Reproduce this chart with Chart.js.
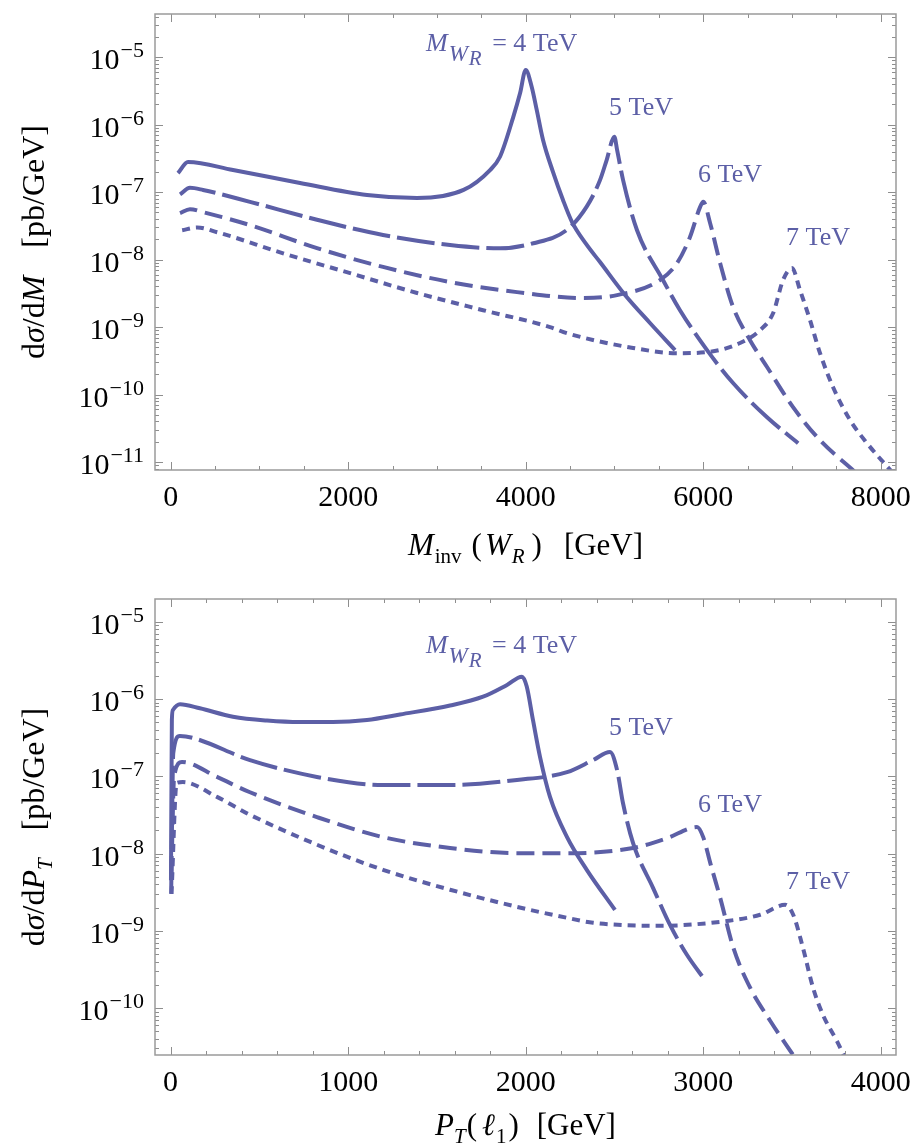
<!DOCTYPE html>
<html>
<head>
<meta charset="utf-8">
<script src="https://cdn.jsdelivr.net/npm/chart.js@4.4.0/dist/chart.umd.min.js"></script>
<style>
  html, body { margin: 0; padding: 0; background: #fff; }
  canvas { display: block; }
</style>
</head>
<body>
<canvas id="invChart" width="919" height="570"></canvas>
<canvas id="ptChart" width="919" height="578"></canvas>
<script>
// data
const massLabels = ["4 TeV", "5 TeV", "6 TeV", "7 TeV"];

// top panel: dsigma/dM vs M_inv(W_R)
const mInv4 = [82, 195, 702, 1457, 2212, 2775, 3300, 3598, 3710, 3861, 3936, 4000, 4067, 4124, 4195, 4307, 4420, 4522, 4680, 4837, 5119, 5400, 5682];
const dsdm4 = [1.92e-7, 2.8e-7, 2.13e-7, 1.37e-7, 9.1e-8, 8.2e-8, 1.08e-7, 2.13e-7, 3.35e-7, 1.32e-6, 2.92e-6, 6.5e-6, 3.66e-6, 1.66e-6, 5.94e-7, 2.0e-7, 7.66e-8, 3.61e-8, 1.71e-8, 9.2e-9, 2.99e-9, 1.15e-9, 4.57e-10];
const mInv5 = [105, 217, 364, 893, 1648, 2392, 3147, 3711, 4086, 4462, 4687, 4837, 4912, 4998, 5030, 5097, 5254, 5547, 5738, 6043, 6336, 6719, 7069];
const dsdm5 = [9.3e-8, 1.16e-7, 1.08e-7, 7.2e-8, 3.9e-8, 2.32e-8, 1.65e-8, 1.47e-8, 1.75e-8, 2.75e-8, 6.1e-8, 1.51e-7, 3.0e-7, 6.65e-7, 4.2e-7, 1.51e-7, 2.73e-8, 4.97e-9, 1.78e-9, 4.55e-10, 1.48e-10, 4.6e-11, 1.9e-11];
const mInv6 = [105, 217, 364, 893, 1648, 2392, 3147, 3902, 4646, 5029, 5513, 5705, 5851, 5964, 6000, 6077, 6190, 6336, 6527, 6719, 7012, 7316, 7710];
const dsdm6 = [4.9e-8, 5.6e-8, 5.06e-8, 3.25e-8, 1.48e-8, 7.8e-9, 4.65e-9, 3.3e-9, 2.7e-9, 2.98e-9, 4.98e-9, 8.9e-9, 2.16e-8, 6.0e-8, 7.2e-8, 3.5e-8, 8.9e-9, 1.99e-9, 6.4e-10, 2.56e-10, 6.5e-11, 2.1e-11, 7.1e-12];
const mInv7 = [129, 298, 523, 1267, 2021, 2776, 3519, 4274, 4466, 5210, 5705, 6043, 6415, 6640, 6787, 6900, 7000, 7090, 7203, 7316, 7462, 7654, 7845, 8127];
const dsdm7 = [2.73e-8, 3.0e-8, 2.55e-8, 1.24e-8, 6.3e-9, 3.2e-9, 1.78e-9, 1.0e-9, 8.1e-10, 4.9e-10, 4.1e-10, 4.25e-10, 5.8e-10, 9.0e-10, 1.6e-9, 5.0e-9, 7.5e-9, 3.55e-9, 1.27e-9, 4.1e-10, 1.29e-10, 4.2e-11, 1.9e-11, 7.1e-12];

// bottom panel: dsigma/dPT vs PT(l1)
const pt4 = [2, 7, 13, 53, 165, 351, 543, 729, 914, 1106, 1292, 1574, 1760, 1895, 1979, 2006, 2041, 2081, 2137, 2233, 2345, 2503];
const dsdpt4 = [4.5e-9, 5.35e-7, 7.2e-7, 8.53e-7, 7.57e-7, 5.89e-7, 5.26e-7, 5.03e-7, 5.03e-7, 5.35e-7, 6.3e-7, 8.22e-7, 1.07e-6, 1.52e-6, 1.94e-6, 1.45e-6, 5.35e-7, 1.77e-7, 5.4e-8, 1.63e-8, 6.1e-9, 1.86e-9];
const pt5 = [3, 15, 52, 126, 447, 824, 1196, 1574, 1951, 2233, 2380, 2475, 2515, 2548, 2605, 2718, 2813, 2909, 3010];
const dsdpt5 = [3.0e-9, 2.0e-7, 3.32e-7, 3.13e-7, 1.62e-7, 9.8e-8, 7.7e-8, 7.7e-8, 8.95e-8, 1.13e-7, 1.62e-7, 2.06e-7, 1.2e-7, 4.5e-8, 1.36e-8, 3.57e-9, 1.19e-9, 4.85e-10, 2.3e-10];
const pt6 = [4, 20, 64, 261, 447, 824, 1196, 1574, 1951, 2250, 2605, 2797, 2965, 3000, 3040, 3096, 3170, 3265, 3378, 3518];
const dsdpt6 = [5.0e-9, 1.0e-7, 1.53e-7, 9.8e-8, 6.2e-8, 2.96e-8, 1.63e-8, 1.18e-8, 1.01e-8, 1.01e-8, 1.18e-8, 1.58e-8, 2.2e-8, 1.63e-8, 7.5e-9, 2.65e-9, 6.0e-10, 1.82e-10, 6.8e-11, 2.25e-11];
const pt7 = [5, 34, 69, 261, 447, 824, 1196, 1574, 1951, 2233, 2380, 2757, 3135, 3321, 3462, 3507, 3562, 3619, 3675, 3754, 3800];
const dsdpt7 = [3.0e-9, 8.2e-8, 8.4e-8, 5.4e-8, 3.17e-8, 1.3e-8, 6.15e-9, 3.4e-9, 2.04e-9, 1.47e-9, 1.27e-9, 1.16e-9, 1.34e-9, 1.61e-9, 2.17e-9, 1.61e-9, 6.0e-10, 1.82e-10, 8.1e-11, 3.7e-11, 2.25e-11];

// tick labels
const invXTicks = [0, 2000, 4000, 6000, 8000];
const ptXTicks = [0, 1000, 2000, 3000, 4000];
const invYExps = [-5, -6, -7, -8, -9, -10, -11];
const ptYExps = [-5, -6, -7, -8, -9, -10];

const lineColor = "rgb(92, 95, 166)";
const dashes = [[], [38, 7], [18, 8], [8, 6]];
const serif = '"Liberation Serif", "Times New Roman", serif';

function buildDatasets(xs, ys) {
  return xs.map((xArr, i) => ({
    label: massLabels[i],
    data: xArr.map((x, j) => ({ x: x, y: ys[i][j] })),
    borderColor: lineColor,
    borderWidth: 4,
    borderDash: dashes[i],
    pointRadius: 0,
    fill: false,
    clip: 0,
    cubicInterpolationMode: "monotone",
  }));
}

function runFont(r, base) {
  return (r.it ? "italic " : "") + (r.size || base) + "px " + serif;
}

// draws a row of text pieces (for sub/superscripts)
function drawRuns(ctx, runs, x, y, base, align) {
  let total = 0;
  runs.forEach((r) => {
    ctx.font = runFont(r, base);
    r.w = (r.gap || 0) + (r.t ? ctx.measureText(r.t).width : 0);
    total += r.w;
  });
  let cx = align === "center" ? x - total / 2 : x;
  ctx.textAlign = "left";
  ctx.textBaseline = "alphabetic";
  runs.forEach((r) => {
    ctx.font = runFont(r, base);
    if (r.t) ctx.fillText(r.t, cx + (r.gap || 0), y + (r.dy || 0));
    cx += r.w;
  });
}

function framePlugin(spec) {
  return {
    id: "frameDecor",
    afterDraw(chart) {
      const ctx = chart.ctx;
      const a = chart.chartArea;
      const xs = chart.scales.x;
      const ys = chart.scales.y;
      ctx.save();

      // inward ticks on all four sides
      ctx.strokeStyle = "#8e8e8e";
      ctx.lineWidth = 1;
      ctx.beginPath();
      for (let v = 0; v <= xs.max; v += spec.xMinor) {
        const px = Math.round(xs.getPixelForValue(v)) + 0.5;
        const len = v % spec.xMajor === 0 ? 8 : 4;
        ctx.moveTo(px, a.bottom);
        ctx.lineTo(px, a.bottom - len);
        ctx.moveTo(px, a.top);
        ctx.lineTo(px, a.top + len);
      }
      for (let d = -12; d <= -4; d++) {
        for (let k = 1; k <= 9; k++) {
          const v = k * Math.pow(10, d);
          if (v < ys.min || v > ys.max) continue;
          const py = Math.round(ys.getPixelForValue(v)) + 0.5;
          const len = k === 1 ? 8 : 4;
          ctx.moveTo(a.left, py);
          ctx.lineTo(a.left + len, py);
          ctx.moveTo(a.right, py);
          ctx.lineTo(a.right - len, py);
        }
      }
      ctx.stroke();

      ctx.strokeStyle = "#9a9a9a";
      ctx.lineWidth = 1.5;
      ctx.strokeRect(a.left, a.top, a.right - a.left, a.bottom - a.top);

      // tick labels
      ctx.fillStyle = "#000";
      ctx.font = "30px " + serif;
      ctx.textAlign = "center";
      ctx.textBaseline = "alphabetic";
      spec.xTicks.forEach((v) => {
        ctx.fillText(String(v), xs.getPixelForValue(v), a.bottom + 36);
      });
      spec.yExps.forEach((e) => {
        const py = ys.getPixelForValue(Math.pow(10, e));
        const sup = "\u2212" + Math.abs(e);
        ctx.font = "22px " + serif;
        const sw = ctx.measureText(sup).width;
        ctx.font = "30px " + serif;
        const bw = ctx.measureText("10").width;
        const right = a.left - 11;
        ctx.textAlign = "left";
        ctx.fillText("10", right - sw - bw - 1, py + 12);
        ctx.font = "22px " + serif;
        ctx.fillText(sup, right - sw, py);
      });

      // axis titles
      drawRuns(ctx, spec.xTitle, (a.left + a.right) / 2, a.bottom + spec.xTitleDy, 31, "center");
      ctx.save();
      ctx.translate(44, (a.top + a.bottom) / 2);
      ctx.rotate(-Math.PI / 2);
      drawRuns(ctx, spec.yTitle, 0, 0, 32, "center");
      ctx.restore();

      // curve labels
      ctx.fillStyle = lineColor;
      spec.notes.forEach((n) => {
        drawRuns(ctx, n.runs, xs.getPixelForValue(n.x), ys.getPixelForValue(n.y), 26, "left");
      });
      ctx.restore();
    },
  };
}

function mwrRuns() {
  return [
    { t: "M", it: 1 },
    { t: "W", it: 1, size: 23, dy: 10, gap: 1 },
    { t: "R", it: 1, size: 21, dy: 14, gap: 1 },
    { t: " = 4 TeV", gap: 4 },
  ];
}

function makeChart(id, datasets, axes, pad, xHeight, spec) {
  return new Chart(document.getElementById(id), {
    type: "line",
    data: { datasets: datasets },
    options: {
      responsive: false,
      animation: false,
      devicePixelRatio: 1,
      layout: { padding: pad },
      plugins: { legend: { display: false }, tooltip: { enabled: false } },
      scales: {
        x: {
          type: "linear",
          min: axes.xMin,
          max: axes.xMax,
          grid: { display: false },
          border: { display: false },
          ticks: { display: false },
          afterFit: (s) => { s.height = xHeight; },
        },
        y: {
          type: "logarithmic",
          min: axes.yMin,
          max: axes.yMax,
          grid: { display: false },
          border: { display: false },
          ticks: { display: false },
          afterFit: (s) => { s.width = 155; },
        },
      },
    },
    plugins: [framePlugin(spec)],
  });
}

makeChart(
  "invChart",
  buildDatasets([mInv4, mInv5, mInv6, mInv7], [dsdm4, dsdm5, dsdm6, dsdm7]),
  { xMin: -177, xMax: 8172, yMin: Math.pow(10, -11.119), yMax: Math.pow(10, -4.358) },
  { top: 14, right: 23, bottom: 0, left: 0 },
  100,
  {
    xMinor: 500,
    xMajor: 2000,
    xTicks: invXTicks,
    yExps: invYExps,
    xTitleDy: 85,
    xTitle: [
      { t: "M", it: 1 },
      { t: "inv", size: 21, dy: 8, gap: 1 },
      { t: "(", gap: 10 },
      { t: "W", it: 1, gap: 3 },
      { t: "R", it: 1, size: 21, dy: 8, gap: 1 },
      { t: ")", gap: 7 },
      { t: "[GeV]", gap: 22 },
    ],
    yTitle: [
      { t: "d" }, { t: "\u03c3", it: 1 }, { t: "/d" }, { t: "M", it: 1 },
      { t: "[pb/GeV]", gap: 28 },
    ],
    notes: [
      { x: 2877, y: 1.239e-5, runs: mwrRuns() },
      { x: 4939, y: 1.4e-6, runs: [{ t: "5 TeV" }] },
      { x: 5942, y: 1.42e-7, runs: [{ t: "6 TeV" }] },
      { x: 6934, y: 1.65e-8, runs: [{ t: "7 TeV" }] },
    ],
  }
);

makeChart(
  "ptChart",
  buildDatasets([pt4, pt5, pt6, pt7], [dsdpt4, dsdpt5, dsdpt6, dsdpt7]),
  { xMin: -88, xMax: 4086, yMin: Math.pow(10, -10.608), yMax: Math.pow(10, -4.706) },
  { top: 29, right: 23, bottom: 0, left: 0 },
  93,
  {
    xMinor: 200,
    xMajor: 1000,
    xTicks: ptXTicks,
    yExps: ptYExps,
    xTitleDy: 80,
    xTitle: [
      { t: "P", it: 1 },
      { t: "T", it: 1, size: 21, dy: 8 },
      { t: "(", gap: 1 },
      { t: "\u2113", it: 1, gap: 5 },
      { t: "1", size: 21, dy: 8, gap: 1 },
      { t: ")", gap: 2 },
      { t: "[GeV]", gap: 18 },
    ],
    yTitle: [
      { t: "d" }, { t: "\u03c3", it: 1 }, { t: "/d" }, { t: "P", it: 1 },
      { t: "T", it: 1, size: 21, dy: 8 },
      { t: "[pb/GeV]", gap: 28 },
    ],
    notes: [
      { x: 1438, y: 3.93e-6, runs: mwrRuns() },
      { x: 2469, y: 3.42e-7, runs: [{ t: "5 TeV" }] },
      { x: 2971, y: 3.44e-8, runs: [{ t: "6 TeV" }] },
      { x: 3467, y: 3.47e-9, runs: [{ t: "7 TeV" }] },
    ],
  }
);
</script>
</body>
</html>
